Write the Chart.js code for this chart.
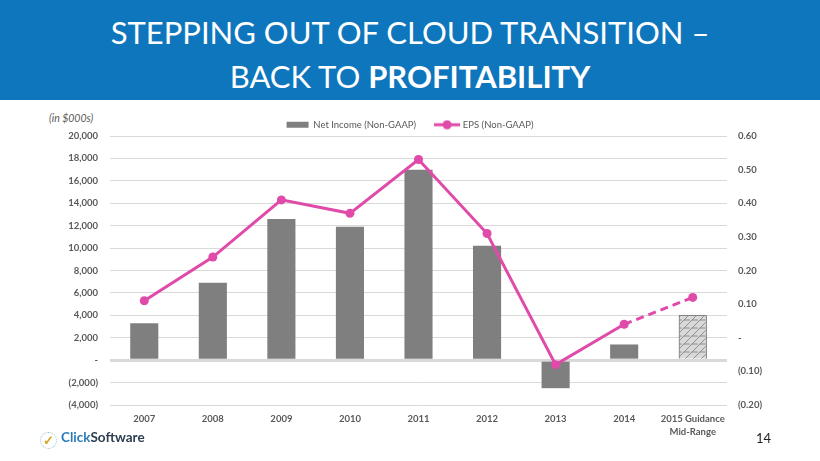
<!DOCTYPE html>
<html><head><meta charset="utf-8">
<script src="https://cdn.jsdelivr.net/npm/chart.js@4/dist/chart.umd.min.js"></script>
<style>
body{margin:0;width:820px;height:461px;overflow:hidden;background:#fff;position:relative;font-family:Lato,"Open Sans",sans-serif;}
#banner{position:absolute;left:0;top:0;width:820px;height:100px;background:#0e76bd;}
.tl{position:absolute;left:0;width:820px;text-align:center;color:#fff;font-family:Lato,sans-serif;font-size:31px;white-space:nowrap;line-height:1;}
#t1{top:17px;}
#t2{top:61px;}
#unit{position:absolute;left:49px;top:112px;font-size:10.5px;font-style:italic;color:#595959;}
#cv{position:absolute;left:0;top:100px;}
#logo{position:absolute;left:40px;top:429px;font-size:13.5px;font-weight:bold;white-space:nowrap;}
#logo .ck{display:inline-block;width:15px;height:15px;border:1px dotted #9bbbd6;border-radius:50%;color:#d9a520;font-size:13px;line-height:15px;text-align:center;margin-right:4px;vertical-align:-3px;}
#logo .c1{color:#2a7ab8;}
#logo .c2{color:#2d3e50;}
#pg{position:absolute;left:756px;top:430px;font-size:13px;color:#222;}
</style></head>
<body>
<div id="banner"></div>
<div class="tl" id="t1">STEPPING OUT OF CLOUD TRANSITION –</div>
<div class="tl" id="t2">BACK TO <b>PROFITABILITY</b></div>
<div id="unit">(in $000s)</div>
<canvas id="cv" width="820" height="361"></canvas>
<div id="logo"><span class="ck">✓</span><span class="c1">Click</span><span class="c2">Software</span></div>
<div id="pg">14</div>
<script>
const categories = ['2007','2008','2009','2010','2011','2012','2013','2014',['2015 Guidance','Mid-Range']];
const netIncome = [3300, 6900, 12600, 11900, 17000, 10200, -2500, 1400, 4000];
const eps = [0.11, 0.24, 0.41, 0.37, 0.53, 0.31, -0.08, 0.04, 0.12];
const leftTickValues = [-4000,-2000,0,2000,4000,6000,8000,10000,12000,14000,16000,18000,20000];
const rightTickValues = [-0.2,-0.1,0,0.1,0.2,0.3,0.4,0.5,0.6];
const seriesNames = ['Net Income (Non-GAAP)','EPS (Non-GAAP)'];

const barColor = '#7f7f7f';
const lineColor = '#e04aa9';

function hatch(){
  const c = document.createElement('canvas'); c.width = 8; c.height = 8;
  const g = c.getContext('2d');
  g.fillStyle = '#d9d9d9'; g.fillRect(0,0,8,8);
  g.strokeStyle = '#707070'; g.lineWidth = 0.7;
  g.beginPath();
  g.moveTo(0,8); g.lineTo(8,0);
  g.moveTo(-4,4); g.lineTo(0,0);
  g.moveTo(4,4); g.lineTo(8,4);
  g.moveTo(0,4); g.lineTo(2,4);
  g.stroke();
  return g.createPattern(c,'repeat');
}
const pattern = hatch();

function legendIcon(kind){
  const c = document.createElement('canvas');
  c.width = 26; c.height = 10;
  const g = c.getContext('2d');
  if(kind==='bar'){ g.fillStyle = barColor; g.fillRect(2,2,22,6); }
  else {
    g.strokeStyle = lineColor; g.lineWidth = 3;
    g.beginPath(); g.moveTo(0,5); g.lineTo(26,5); g.stroke();
    g.fillStyle = lineColor; g.beginPath(); g.arc(13,5,4.5,0,Math.PI*2); g.fill();
  }
  return c;
}

function fmtLeft(v){
  if(v===0) return '-';
  const s = Math.abs(v).toLocaleString('en-US');
  return v<0 ? '('+s+')' : s;
}
function fmtRight(v){
  const r = Math.round(v*100)/100;
  if(Math.abs(r)<1e-9) return '-';
  const s = Math.abs(r).toFixed(2);
  return r<0 ? '('+s+')' : s;
}

const fixLegend = {
  id:'fixLegend',
  beforeLayout(chart){
    const lg = chart.legend;
    if(lg && !lg._fixed){
      const f = lg.fit.bind(lg);
      lg.fit = function(){ f(); this.height = 36; };
      lg._fixed = true;
    }
  }
};

const tickFont = {family:'Lato', size:9.5, weight:'bold', lineHeight:1.35};

new Chart(document.getElementById('cv'), {
  type:'bar',
  data:{
    labels: categories,
    datasets:[
      {
        type:'bar', label: seriesNames[0], data: netIncome, yAxisID:'y', order:1,
        backgroundColor: netIncome.map((v,i)=> i===netIncome.length-1 ? pattern : barColor),
        borderColor: netIncome.map((v,i)=> i===netIncome.length-1 ? '#404040' : barColor),
        borderWidth: netIncome.map((v,i)=> i===netIncome.length-1 ? 1 : 0),
        barPercentage:0.41, categoryPercentage:1
      },
      {
        type:'line', label: seriesNames[1], data: eps, yAxisID:'y1', order:0,
        borderColor: lineColor, backgroundColor: lineColor, borderWidth:3,
        pointRadius:4.5, pointHoverRadius:4.5, pointBackgroundColor: lineColor, pointBorderWidth:0,
        pointStyle:'circle',
        tension:0,
        segment:{ borderDash: ctx => ctx.p1DataIndex === eps.length-1 ? [8,5] : undefined }
      }
    ]
  },
  options:{
    responsive:false, animation:false,
    layout:{padding:{left:0,right:0,top:0,bottom:0}},
    plugins:{
      tooltip:{enabled:false},
      legend:{
        position:'top',
        labels:{
          color:'#595959', font:{family:'Lato', size:9.5},
          usePointStyle:true, pointStyleWidth:22, boxHeight:10, padding:20,
          generateLabels(chart){
            return chart.data.datasets.map((ds,i)=>({
              text: ds.label, fillStyle:'transparent', strokeStyle:'transparent', lineWidth:0,
              pointStyle: legendIcon(i===0?'bar':'line'), datasetIndex:i, hidden:false, fontColor:'#595959'
            }));
          }
        }
      }
    },
    scales:{
      x:{
        grid:{display:false, drawTicks:false}, border:{display:false},
        ticks:{color:'#595959', font:tickFont, padding:8, maxRotation:0, autoSkip:false},
        afterFit(s){ s.height = 56; }
      },
      y:{
        position:'left', min:-4000, max:20000,
        afterBuildTicks(s){ s.ticks = leftTickValues.map(v=>({value:v})); },
        grid:{ color:'#d9d9d9', lineWidth: c => c.tick && c.tick.value===0 ? 3 : 1, drawTicks:false },
        border:{display:false},
        ticks:{ color:'#595959', font:tickFont, padding:12, callback: v => fmtLeft(v) },
        afterFit(s){ s.width = 110; }
      },
      y1:{
        position:'right', min:-0.2, max:0.6,
        afterBuildTicks(s){ s.ticks = rightTickValues.map(v=>({value:v})); },
        grid:{display:false, drawTicks:false}, border:{display:false},
        ticks:{ color:'#595959', font:tickFont, padding:11, callback: v => fmtRight(v) },
        afterFit(s){ s.width = 93; }
      }
    }
  },
  plugins:[fixLegend]
});
</script>
</body></html>
